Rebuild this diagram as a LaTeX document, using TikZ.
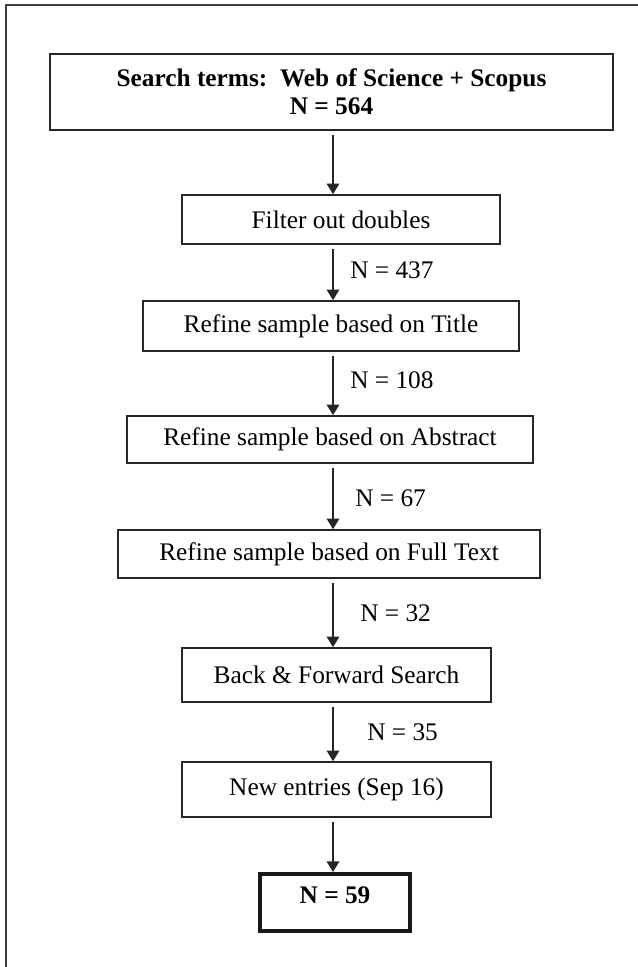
\documentclass[tikz,border=0pt]{standalone}
\usepackage{fontspec}
\setmainfont{Liberation Serif}
\usetikzlibrary{arrows.meta}
\begin{document}
\begin{tikzpicture}[x=0.75pt,y=-0.75pt,
  box/.style={draw=black!85, line width=1.2pt, rectangle, inner sep=0pt, font=\fontsize{19}{21}\selectfont, align=center},
  finalbox/.style={draw=black!90, line width=3pt, rectangle, inner sep=0pt},
  flow/.style={draw=black!85, line width=1.1pt, -{Triangle[width=9.5pt,length=8pt]}, shorten <=3pt},
  count/.style={anchor=west, inner sep=0pt, font=\fontsize{19}{21}\selectfont},
  frameline/.style={draw=black!75, line width=1.5pt}]
\useasboundingbox (0,0) rectangle (638,967);
% outer frame (only top and left edges visible)
\coordinate (fl) at (6,967);
\coordinate (fc) at (6,5);
\coordinate (fr) at (638,5);
\draw[frameline] (fl) -- (fc) -- (fr);
% axis of the arrows
\coordinate (ax) at (333,0);
% boxes
\node[box, minimum width=563*0.75pt, minimum height=76*0.75pt, font=\bfseries\fontsize{19}{21}\selectfont] (b1) at (331.5,92) {Search terms:\ \ Web of Science + Scopus\\N = 564};
\node[box, minimum width=318*0.75pt, minimum height=49*0.75pt] (b2) at (341,219.5) {Filter out doubles};
\node[box, minimum width=376*0.75pt, minimum height=50*0.75pt] (b3) at (331,326) {Refine sample based on Title};
\node[box, minimum width=406*0.75pt, minimum height=47*0.75pt] (b4) at (330,439.5) {Refine sample based on Abstract};
\node[box, minimum width=422*0.75pt, minimum height=48*0.75pt] (b5) at (329,554) {Refine sample based on Full Text};
\node[box, minimum width=309*0.75pt, minimum height=54*0.75pt] (b6) at (336.5,675) {Back \& Forward Search};
\node[box, minimum width=309*0.75pt, minimum height=55*0.75pt] (b7) at (336.5,789.5) {New entries (Sep 16)};
\node[finalbox, minimum width=150*0.75pt, minimum height=57*0.75pt] (b8) at (335,902.5) {};
\node[inner sep=0pt, font=\bfseries\fontsize{19}{21}\selectfont] (t8) at (335,895) {N = 59};
% connectors
\draw[flow] (b1.south -| ax) -- (b2.north -| ax);
\draw[flow] (b2.south -| ax) -- (b3.north -| ax);
\draw[flow] (b3.south -| ax) -- (b4.north -| ax);
\draw[flow] (b4.south -| ax) -- (b5.north -| ax);
\draw[flow] (b5.south -| ax) -- (b6.north -| ax);
\draw[flow] (b6.south -| ax) -- (b7.north -| ax);
\draw[flow] (b7.south -| ax) -- (b8.north -| ax);
% counts
\node[count] (n1) at (350,270) {N = 437};
\node[count] (n2) at (350,380) {N = 108};
\node[count] (n3) at (355,498) {N = 67};
\node[count] (n4) at (360,613) {N = 32};
\node[count] (n5) at (367,732) {N = 35};
\end{tikzpicture}
\end{document}
